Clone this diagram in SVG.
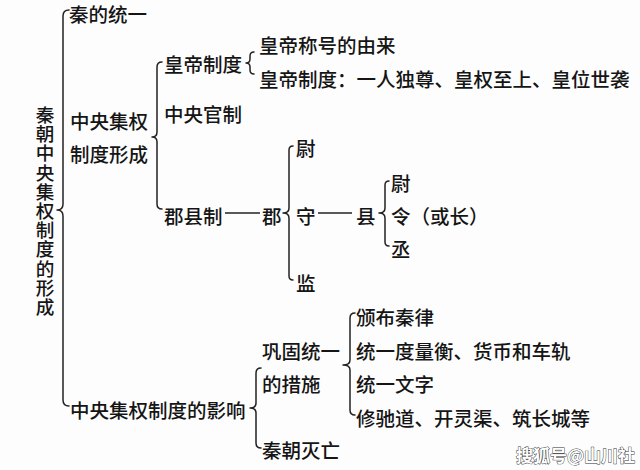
<svg xmlns="http://www.w3.org/2000/svg" width="640" height="470" viewBox="0 0 640 470">
<style>
text{font-family:"Noto Sans CJK SC","Noto Sans CJK JP",sans-serif;font-size:19.5px;font-weight:500;fill:#151515;dominant-baseline:central}
.vt{font-size:18.6px;writing-mode:vertical-rl;letter-spacing:0.6px}
.br{fill:none;stroke:#222;stroke-width:1.5;stroke-linecap:round;stroke-linejoin:round}
.ln{stroke:#222;stroke-width:1.3}
.wm{font-size:17px;font-weight:700;fill:#fff;stroke:#333;stroke-width:0.9;paint-order:stroke}
</style>
<rect width="640" height="470" fill="#fdfdfd"/>
<g id="connectors">
<path class="br" d="M69,10 Q63,10 63,16 L63,204 Q63,210 57,210 Q63,210 63,216 L63,400 Q63,406 69,406"/>
<path class="br" d="M162,62 Q157,62 157,67 L157,132 Q157,137 152,137 Q157,137 157,142 L157,204 Q157,209 162,209"/>
<path class="br" d="M254,52 Q250,52 250,56 L250,59 Q250,63 246,63 Q250,63 250,67 L250,70 Q250,74 254,74"/>
<path class="br" d="M293,146 Q289,146 289,150 L289,208 Q289,213 283,213 Q289,213 289,218 L289,276 Q289,280 293,280"/>
<path class="br" d="M389,181 Q385,181 385,185 L385,208 Q385,213 379,213 Q385,213 385,218 L385,242 Q385,246 389,246"/>
<path class="br" d="M355,313 Q350,313 350,318 L350,360 Q350,365 343,365 Q350,365 350,370 L350,410 Q350,415 355,415"/>
<path class="br" d="M261,368 Q256,368 256,373 L256,403 Q256,408 250,408 Q256,408 256,413 L256,443 Q256,448 261,448"/>
<line class="ln" x1="225" y1="213" x2="260" y2="213"/>
<line class="ln" x1="318" y1="213" x2="352" y2="213"/>
</g>
<g id="root"><text class="vt" x="45" y="105.7">秦朝中央集权制度的形成</text></g>
<g id="n-tongyi"><text x="69" y="13">秦的统一</text></g>
<g id="n-xingcheng"><text x="70" y="120">中央集权</text><text x="70" y="153">制度形成</text></g>
<g id="n-huangdi"><text x="164" y="63">皇帝制度</text></g>
<g id="n-chenghao"><text x="259" y="44">皇帝称号的由来</text></g>
<g id="n-zhidu"><text x="259" y="78">皇帝制度：一人独尊、皇权至上、皇位世袭</text></g>
<g id="n-guanzhi"><text x="164" y="113">中央官制</text></g>
<g id="n-junxian"><text x="164" y="215">郡县制</text></g>
<g id="n-jun"><text x="262" y="215">郡</text></g>
<g id="n-wei1"><text x="296" y="147">尉</text></g>
<g id="n-shou"><text x="296" y="215">守</text></g>
<g id="n-jian"><text x="296" y="282">监</text></g>
<g id="n-xian"><text x="356" y="215">县</text></g>
<g id="n-wei2"><text x="391" y="182">尉</text></g>
<g id="n-ling"><text x="391" y="215">令（或长）</text></g>
<g id="n-cheng"><text x="391" y="248">丞</text></g>
<g id="n-yingxiang"><text x="70" y="409">中央集权制度的影响</text></g>
<g id="n-cuoshi"><text x="262" y="350">巩固统一</text><text x="262" y="383">的措施</text></g>
<g id="n-miewang"><text x="262" y="449">秦朝灭亡</text></g>
<g id="n-lv"><text x="356" y="316">颁布秦律</text></g>
<g id="n-duliang"><text x="356" y="350">统一度量衡、货币和车轨</text></g>
<g id="n-wenzi"><text x="356" y="383">统一文字</text></g>
<g id="n-chidao"><text x="356" y="417">修驰道、开灵渠、筑长城等</text></g>
<text class="wm" x="516" y="454">搜狐号@山川社</text>
</svg>
